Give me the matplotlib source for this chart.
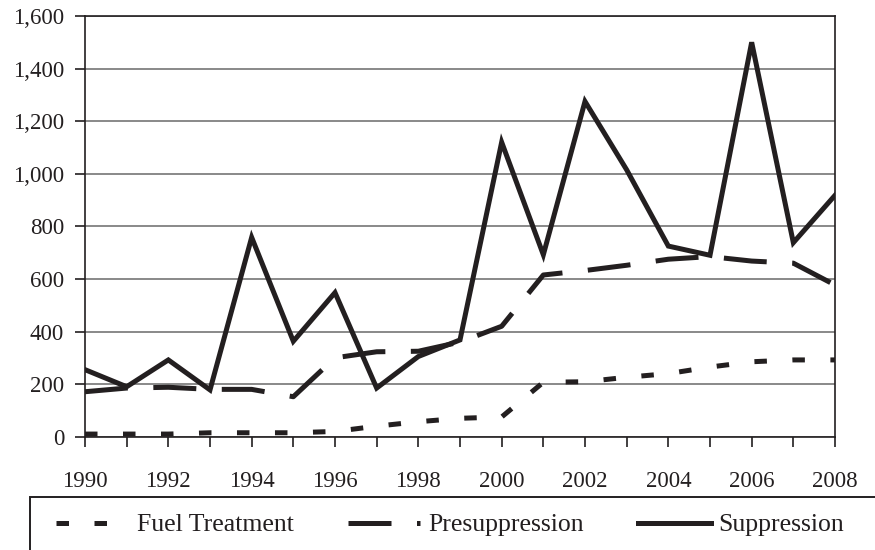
import matplotlib.pyplot as plt
from matplotlib.patches import Rectangle
from matplotlib.ticker import StrMethodFormatter

years = list(range(1990, 2009))
fuel_treatment = [10, 10, 10, 15, 15, 15, 20, 40, 57, 70, 75, 207, 209, 226, 240, 265, 285, 292, 292]
presuppression = [171, 185, 188, 180, 180, 152, 300, 323, 325, 360, 420, 615, 632, 652, 675, 685, 668, 660, 577]
suppression = [255, 190, 292, 178, 758, 363, 548, 185, 305, 368, 1120, 692, 1275, 1015, 725, 690, 1500, 738, 918]

plt.rcParams["font.family"] = ["Liberation Serif", "DejaVu Serif"]

fig = plt.figure(figsize=(8.75, 5.5), dpi=100)
ax = fig.add_axes([85 / 875, 1 - 436.7 / 550, 750 / 875, 420.7 / 550])

lw = 3.6
ax.plot(years, fuel_treatment, color="#231f20", lw=lw, dashes=(2.5, 5.1),
        dash_capstyle="butt", label="Fuel Treatment", zorder=3)
ax.plot(years, presuppression, color="#231f20", lw=lw, dashes=(8.6, 5.1),
        dash_capstyle="butt", label="Presuppression", zorder=3)
ax.plot(years, suppression, color="#231f20", lw=lw, solid_joinstyle="miter",
        label="Suppression", zorder=4)

ax.set_xlim(1990, 2008)
ax.set_ylim(0, 1600)
ax.set_xticks(range(1990, 2009, 2))
ax.set_xticks(range(1990, 2009), minor=True)
ax.set_yticks(range(0, 1601, 200))
ax.yaxis.set_major_formatter(StrMethodFormatter("{x:,.0f}"))
ax.grid(axis="y", color="#808080", lw=1.3, zorder=1)
ax.set_axisbelow(True)

for side in ["left", "bottom", "right", "top"]:
    ax.spines[side].set_color("#231f20")
    ax.spines[side].set_linewidth(1.2)

ax.tick_params(axis="x", which="both", direction="out", length=7, width=1.2,
               color="#231f20", labelsize=16.5, pad=18)
ax.tick_params(axis="y", direction="out", length=7, width=1.2,
               color="#231f20", labelsize=16.5, pad=8)
ax.tick_params(labelcolor="#231f20")

# legend box runs off the right and bottom of the figure
box = Rectangle((30 / 875, -0.2), 1.0, 1.2 - 497 / 550, transform=fig.transFigure,
                fill=False, edgecolor="#231f20", lw=1.4, clip_on=False)
fig.patches.append(box)

fig.legend(loc="center left", bbox_to_anchor=(56 / 875, 1 - 525 / 550), ncol=3,
           frameon=False, fontsize=18.5, handlelength=2.84, handletextpad=0.3,
           columnspacing=2.1, borderpad=0, borderaxespad=0, labelcolor="#231f20")

fig.savefig("out.png", dpi=100)
